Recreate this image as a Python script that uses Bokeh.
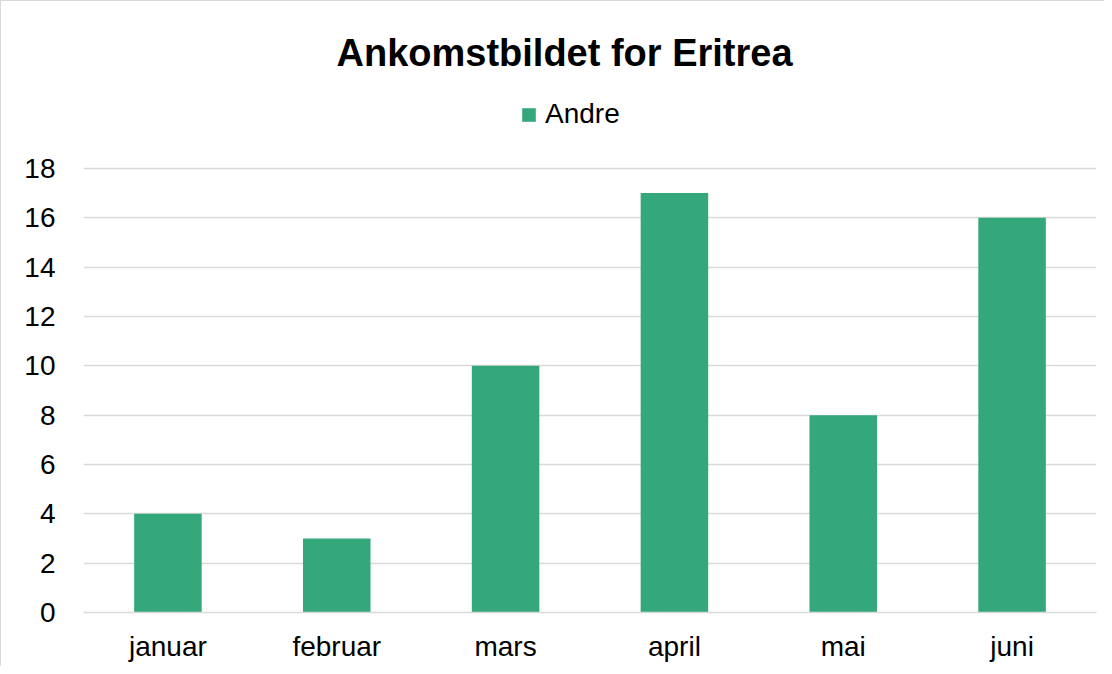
from bokeh.plotting import figure
from bokeh.models import Legend, LegendItem, ColumnDataSource
from bokeh.embed import file_html
from bokeh.resources import INLINE

months = ["januar", "februar", "mars", "april", "mai", "juni"]
andre = [4, 3, 10, 17, 8, 16]
y_ticks = [0, 2, 4, 6, 8, 10, 12, 14, 16, 18]

FONT = "Liberation Sans"
BAR = "#34A77B"
GRID = "#D9D9D9"

src = ColumnDataSource(dict(m=months, v=andre))

# frame: page x 82..1095, y 85..611 ; value 18 at y 167
p = figure(x_range=months, y_range=(0, 21.32), width=1104, height=666,
           output_backend="svg", toolbar_location=None,
           min_border_left=82, min_border_right=9, min_border_top=85, min_border_bottom=55)

r = p.vbar(x="m", top="v", width=0.40, source=src, fill_color=BAR, line_color=None)

p.title.text = "Ankomstbildet for Eritrea"
p.title.text_font = FONT
p.title.text_font_size = "38px"
p.title.text_font_style = "bold"
p.title.text_color = "#000000"
p.title.align = "left"
p.title.offset = 253
p.title.standoff = 25

legend = Legend(items=[LegendItem(label="Andre", renderers=[r])],
                orientation="horizontal", location=(437, 482),
                label_text_font=FONT, label_text_font_size="28px", label_text_color="#000000",
                glyph_width=17, glyph_height=17, label_standoff=8,
                padding=0, margin=0, border_line_color=None, background_fill_alpha=0)
p.add_layout(legend)

p.yaxis.ticker = y_ticks
p.yaxis.axis_line_color = None
p.yaxis.major_tick_line_color = None
p.yaxis.minor_tick_line_color = None
p.yaxis.major_label_standoff = 22
p.yaxis.major_label_text_font = FONT
p.yaxis.major_label_text_font_size = "28px"
p.yaxis.major_label_text_color = "#000000"

p.xaxis.axis_line_color = GRID
p.xaxis.axis_line_width = 1.5
p.xaxis.major_tick_line_color = None
p.xaxis.major_label_standoff = 12
p.xaxis.major_label_text_font = FONT
p.xaxis.major_label_text_font_size = "28px"
p.xaxis.major_label_text_color = "#000000"

p.xgrid.grid_line_color = None
p.ygrid.grid_line_color = GRID
p.ygrid.grid_line_width = 1.5
p.outline_line_color = None

p.styles = {"border-left": "1px solid #D9D9D9", "border-top": "1px solid #D9D9D9"}

open("out.html", "w").write(file_html(p, INLINE))
